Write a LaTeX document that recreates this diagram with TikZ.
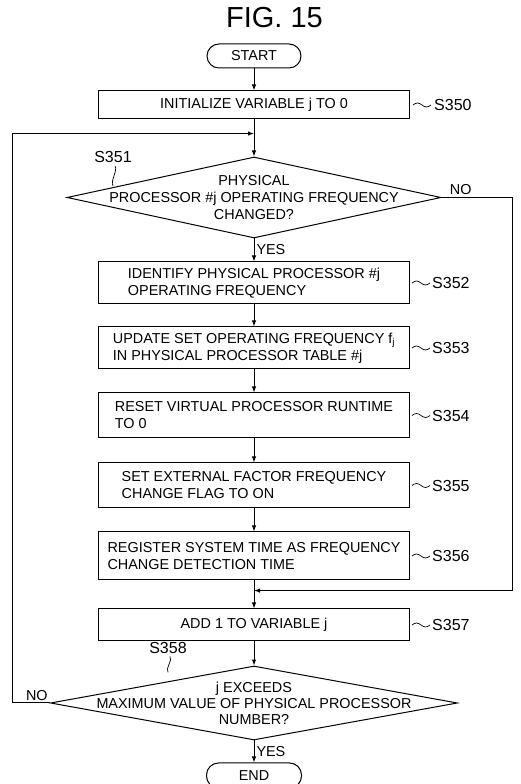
\documentclass[tikz,border=0pt]{standalone}
\usepackage{fontspec}
\setmainfont{Liberation Sans}
\usetikzlibrary{arrows.meta,positioning,shapes.geometric,calc}
\tikzset{
  flow/.style={-{Latex[length=6pt,width=4.5pt]}, line width=1pt},
  tie/.style={line width=0.7pt},
  boxfont/.style={font=\fontsize{14.4}{17}\selectfont},
  terminal/.style={boxfont, draw, line width=1pt, rounded corners=12pt,
                   minimum width=94pt, minimum height=24pt, inner sep=0pt},
  process/.style={boxfont, draw, line width=1pt, minimum width=311pt,
                  align=left, inner sep=0pt},
  decision/.style={draw, diamond, line width=1pt, inner sep=0pt},
  asktext/.style={boxfont, align=center, inner sep=0pt},
  answer/.style={boxfont, inner sep=2pt},
  steptag/.style={font=\fontsize{16}{18}\selectfont, inner sep=0pt, anchor=west},
}
\begin{document}
\begin{tikzpicture}[x=1pt,y=1pt]
    \useasboundingbox (0,0) rectangle (520,784);
    \node[font=\fontsize{29}{34}\selectfont, anchor=base] (title) at (274.5,756) {FIG. 15};
    % main column
    \node[terminal] (start) at (254,728) {START};
    \node[process, minimum height=28pt, below=22pt of start] (s350) {INITIALIZE VARIABLE j TO 0};
    \node[decision, minimum width=374pt, minimum height=81pt, below=37pt of s350] (d351) {};
    \node[asktext] (q351) at (d351) {PHYSICAL\\PROCESSOR \#j OPERATING FREQUENCY\\CHANGED?};
    \node[process, minimum height=42pt, below=23pt of d351] (s352) {IDENTIFY PHYSICAL PROCESSOR \#j\\OPERATING FREQUENCY};
    \node[process, minimum height=42pt, below=22pt of s352] (s353) {UPDATE SET OPERATING FREQUENCY f\textsubscript{j}\\IN PHYSICAL PROCESSOR TABLE \#j};
    \node[process, minimum height=45pt, below=23pt of s353] (s354) {RESET VIRTUAL PROCESSOR RUNTIME\\TO 0};
    \node[process, minimum height=45pt, below=24pt of s354] (s355) {SET EXTERNAL FACTOR FREQUENCY\\CHANGE FLAG TO ON};
    \node[process, minimum height=48pt, below=23pt of s355] (s356) {REGISTER SYSTEM TIME AS FREQUENCY\\CHANGE DETECTION TIME};
    \node[process, minimum height=32pt, below=28pt of s356] (s357) {ADD 1 TO VARIABLE j};
    \node[decision, minimum width=407pt, minimum height=74pt, below=24pt of s357] (d358) {};
    \node[asktext, font=\fontsize{14.4}{16}\selectfont] (q358) at (d358) {j EXCEEDS\\MAXIMUM VALUE OF PHYSICAL PROCESSOR\\NUMBER?};
    \node[terminal, minimum width=95pt, minimum height=25pt, below=22pt of d358] (end) {END};
    % joins
    \coordinate (j351) at ($(s350.south)!0.38!(d351.north)$);
    \coordinate (j357) at ($(s356.south)!0.36!(s357.north)$);
    % connectors
    \draw[flow] (start) -- (s350);
    \draw[flow] (s350) -- (d351);
    \draw[flow] (d351) -- node[answer, right]{YES} (s352);
    \draw[flow] (s352) -- (s353);
    \draw[flow] (s353) -- (s354);
    \draw[flow] (s354) -- (s355);
    \draw[flow] (s355) -- (s356);
    \draw[flow] (s356) -- (s357);
    \draw[flow] (s357) -- (d358);
    \draw[flow] (d358) -- node[answer, right]{YES} (end);
    \draw[flow] (d351.east) -- ++(71,0) node[answer, above, pos=0.27]{NO} |- (j357);
    \draw[flow] (d358.west) -- ++(-37.5,0) node[answer, above, pos=0.35]{NO} |- (j351);
    % step tags
    \node[steptag, right=24pt of s350] (t350) {S350};
    \node[steptag, right=22pt of s352] (t352) {S352};
    \node[steptag, right=22pt of s353] (t353) {S353};
    \node[steptag, right=22pt of s354] (t354) {S354};
    \node[steptag, right=22pt of s355] (t355) {S355};
    \node[steptag, right=22pt of s356] (t356) {S356};
    \node[steptag, right=22pt of s357] (t357) {S357};
    \node[steptag, anchor=center] (t351) at (113,627) {S351};
    \node[steptag, anchor=center] (t358) at (168,136.5) {S358};
    \draw[tie] ($(s350.east)+(3,0)$) sin ++(4.5,2) cos ++(4.5,-2) sin ++(4.5,-2) cos ++(4.5,2);
    \draw[tie] ($(s352.east)+(2,0)$) sin ++(4.5,2) cos ++(4.5,-2) sin ++(4.5,-2) cos ++(4.5,2);
    \draw[tie] ($(s353.east)+(2,0)$) sin ++(4.5,2) cos ++(4.5,-2) sin ++(4.5,-2) cos ++(4.5,2);
    \draw[tie] ($(s354.east)+(2,0)$) sin ++(4.5,2) cos ++(4.5,-2) sin ++(4.5,-2) cos ++(4.5,2);
    \draw[tie] ($(s355.east)+(2,0)$) sin ++(4.5,2) cos ++(4.5,-2) sin ++(4.5,-2) cos ++(4.5,2);
    \draw[tie] ($(s356.east)+(2,0)$) sin ++(4.5,2) cos ++(4.5,-2) sin ++(4.5,-2) cos ++(4.5,2);
    \draw[tie] ($(s357.east)+(2,0)$) sin ++(4.5,2) cos ++(4.5,-2) sin ++(4.5,-2) cos ++(4.5,2);
    \draw[tie] ($(t351.south)+(2,-3)$) .. controls +(3,-5) and +(-3,5) .. ++(-2,-20);
    \draw[tie] ($(t358.south)+(2,-3)$) .. controls +(3,-4) and +(-3,4) .. ++(-2,-16);
  \end{tikzpicture}
\end{document}
